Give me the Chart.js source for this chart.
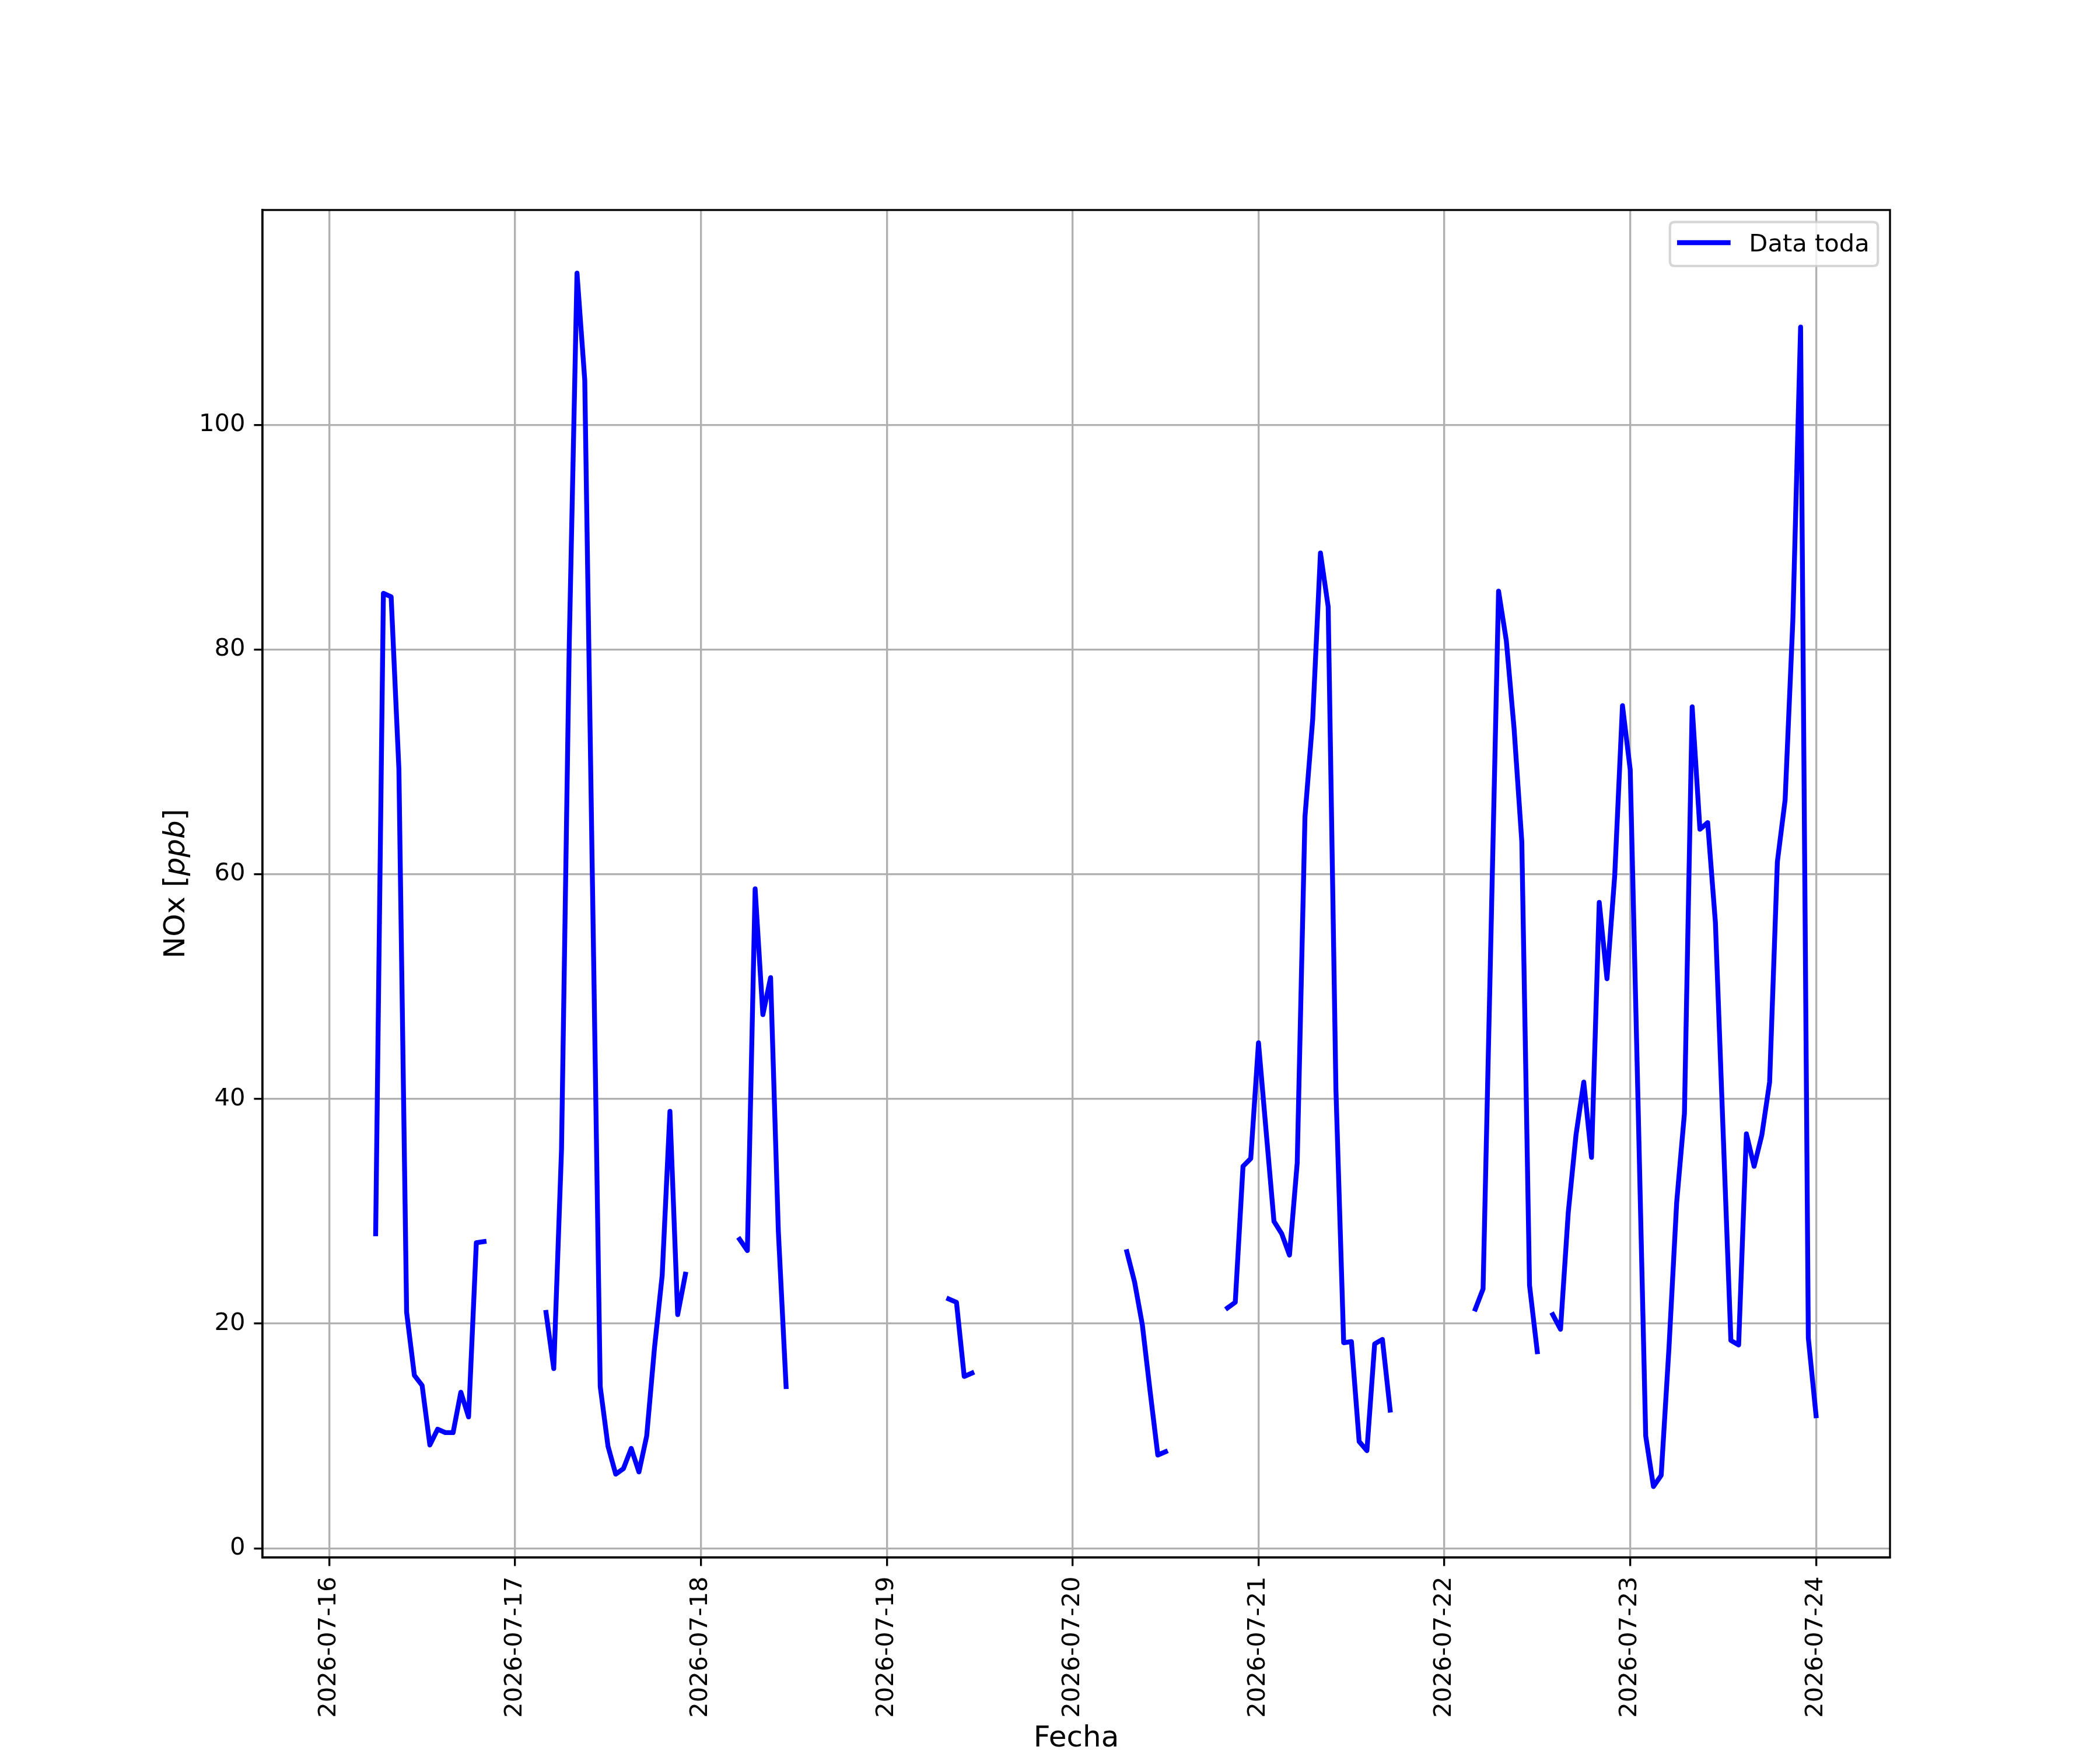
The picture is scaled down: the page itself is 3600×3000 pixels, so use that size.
<!DOCTYPE html>
<html>
<head>
<meta charset="utf-8">
<script src="https://cdn.jsdelivr.net/npm/chart.js@4.4.0/dist/chart.umd.min.js"></script>
<style>html,body{margin:0;padding:0;background:#fff}canvas{display:block}</style>
</head>
<body>
<canvas id="c" width="3600" height="3000" style="width:3600px;height:3000px"></canvas>
<script>
// ---- data (hourly values, null = no data) ----
const days = ['2026-07-16','2026-07-17','2026-07-18','2026-07-19','2026-07-20','2026-07-21','2026-07-22','2026-07-23','2026-07-24'];
const xTickLabels = ['2026-07-16','2026-07-17','2026-07-18','2026-07-19','2026-07-20','2026-07-21','2026-07-22','2026-07-23','2026-07-24'];
const yTicks = [0, 20, 40, 60, 80, 100];
const seriesLabel = 'Data toda';

const nox_0716 = [null,null,null,null,null,null,28.0,85.0,84.7,69.4,21.0,15.4,14.5,9.2,10.6,10.3,10.3,13.9,11.7,27.2,27.3,null,null,null];
const nox_0717 = [null,null,null,null,21.0,16.0,35.5,80.5,113.5,104.0,59.0,14.4,9.1,6.6,7.1,8.9,6.8,10.0,17.8,24.3,38.9,20.8,24.4,null];
const nox_0718 = [null,null,null,null,null,27.5,26.5,58.7,47.5,50.8,28.2,14.4,null,null,null,null,null,null,null,null,null,null,null,null];
const nox_0719 = [null,null,null,null,null,null,null,null,22.2,21.9,15.3,15.6,null,null,null,null,null,null,null,null,null,null,null,null];
const nox_0720 = [null,null,null,null,null,null,null,26.4,23.7,19.9,14.0,8.3,8.6,null,null,null,null,null,null,null,21.4,21.9,34.0,34.7];
const nox_0721 = [45.0,37.0,29.1,28.0,26.1,34.3,65.1,73.8,88.6,83.8,40.8,18.3,18.4,9.5,8.7,18.2,18.6,12.3,null,null,null,null,null,null];
const nox_0722 = [null,null,null,null,21.3,23.1,54.0,85.2,80.8,73.0,62.9,23.4,17.5,null,20.8,19.5,29.9,36.8,41.5,34.8,57.5,50.7,59.9,75.0];
const nox_0723 = [69.3,40.0,10.0,5.5,6.5,17.8,30.8,38.7,74.9,64.0,64.6,55.7,37.0,18.5,18.1,36.9,34.0,36.8,41.5,61.1,66.6,82.6,108.7,18.7];
const nox_0724 = [11.8];

const daySeries = [nox_0716,nox_0717,nox_0718,nox_0719,nox_0720,nox_0721,nox_0722,nox_0723,nox_0724];

// ---- build points ----
const HOUR = 3600000, DAY = 86400000;
const dayMs = d => Date.parse(d + 'T00:00:00Z');
const points = [];
days.forEach((d, i) => {
  const base = dayMs(d);
  daySeries[i].forEach((v, h) => points.push({x: base + h * HOUR, y: v}));
});

const FONT = 'DejaVu Sans';
const FS = 41.67;     // 10 pt @ 300 dpi
const FS_LABEL = 50;  // 12 pt @ 300 dpi
const LW_GRID = 3.33;

const framePlugin = {
  id: 'mplExtras',
  afterDraw(chart) {
    const {ctx, chartArea: a} = chart;
    ctx.save();
    // frame
    ctx.strokeStyle = '#000';
    ctx.lineWidth = LW_GRID;
    ctx.lineJoin = 'miter';
    ctx.strokeRect(a.left, a.top, a.right - a.left, a.bottom - a.top);

    // legend
    const lx = 2862.7, ly = 380.7, lw = 356.6, lh = 75.3, r = 8.3;
    ctx.beginPath();
    ctx.moveTo(lx + r, ly);
    ctx.lineTo(lx + lw - r, ly);
    ctx.quadraticCurveTo(lx + lw, ly, lx + lw, ly + r);
    ctx.lineTo(lx + lw, ly + lh - r);
    ctx.quadraticCurveTo(lx + lw, ly + lh, lx + lw - r, ly + lh);
    ctx.lineTo(lx + r, ly + lh);
    ctx.quadraticCurveTo(lx, ly + lh, lx, ly + lh - r);
    ctx.lineTo(lx, ly + r);
    ctx.quadraticCurveTo(lx, ly, lx + r, ly);
    ctx.closePath();
    ctx.fillStyle = 'rgba(255,255,255,0.8)';
    ctx.fill();
    ctx.strokeStyle = 'rgba(204,204,204,0.8)';
    ctx.lineWidth = 4.17;
    ctx.stroke();
    ctx.beginPath();
    ctx.strokeStyle = '#0000ff';
    ctx.lineWidth = 8.33;
    ctx.lineCap = 'butt';
    ctx.moveTo(2875, 416);
    ctx.lineTo(2966.7, 416);
    ctx.stroke();
    ctx.fillStyle = '#000';
    ctx.font = FS + 'px "' + FONT + '"';
    ctx.textAlign = 'left';
    ctx.textBaseline = 'alphabetic';
    ctx.fillText(seriesLabel, 2998.3, 430.7);

    // x axis title
    ctx.font = FS_LABEL + 'px "' + FONT + '"';
    ctx.textAlign = 'center';
    ctx.fillText('Fecha', (a.left + a.right) / 2, 2994);

    // y axis title: NOx [ppb] with italic ppb
    const parts = [['NOx [', ''], ['ppb', 'italic '], [']', '']];
    let total = 0;
    const widths = parts.map(([t, st]) => { ctx.font = st + FS_LABEL + 'px "' + FONT + '"'; const w = ctx.measureText(t).width; total += w; return w; });
    ctx.translate(316, (a.top + a.bottom) / 2);
    ctx.rotate(-Math.PI / 2);
    ctx.textAlign = 'left';
    let xx = -total / 2;
    parts.forEach(([t, st], i) => { ctx.font = st + FS_LABEL + 'px "' + FONT + '"'; ctx.fillText(t, xx, 0); xx += widths[i]; });
    ctx.restore();
  }
};

new Chart(document.getElementById('c'), {
  type: 'line',
  data: {
    datasets: [{
      label: seriesLabel,
      data: points,
      borderColor: '#0000ff',
      backgroundColor: '#0000ff',
      borderWidth: 8.33,
      pointRadius: 0,
      pointHoverRadius: 0,
      tension: 0,
      spanGaps: false,
      fill: false,
      borderCapStyle: 'square',
      borderJoinStyle: 'round'
    }]
  },
  options: {
    responsive: false,
    devicePixelRatio: 1,
    animation: false,
    events: [],
    layout: {padding: {left: 0, top: 360, right: 360, bottom: 0}},
    plugins: {legend: {display: false}, tooltip: {enabled: false}, title: {display: false}},
    scales: {
      x: {
        type: 'linear',
        position: 'bottom',
        min: dayMs(days[0]) - 0.3588 * DAY,
        max: dayMs(days[days.length - 1]) + 0.3977 * DAY,
        afterBuildTicks: s => { s.ticks = xTickLabels.map(d => ({value: dayMs(d)})); },
        afterFit: s => { s.height = 330; s.paddingLeft = 0; s.paddingRight = 0; },
        ticks: {
          autoSkip: false, minRotation: 90, maxRotation: 90, padding: 18, color: '#000',
          font: {family: FONT, size: FS},
          callback: (v, i) => xTickLabels[i]
        },
        grid: {color: '#b0b0b0', lineWidth: LW_GRID, drawTicks: true, tickLength: 14.6, tickColor: '#000', tickWidth: LW_GRID},
        border: {display: true, color: '#000', width: LW_GRID},
        title: {display: false}
      },
      y: {
        type: 'linear',
        position: 'left',
        min: -0.815,
        max: 119.12,
        afterBuildTicks: s => { s.ticks = yTicks.map(v => ({value: v})); },
        afterFit: s => { s.width = 450; },
        ticks: {
          padding: 15, color: '#000',
          font: {family: FONT, size: FS},
          callback: v => String(v)
        },
        grid: {color: '#b0b0b0', lineWidth: LW_GRID, drawTicks: true, tickLength: 14.6, tickColor: '#000', tickWidth: LW_GRID},
        border: {display: true, color: '#000', width: LW_GRID},
        title: {display: false}
      }
    }
  },
  plugins: [framePlugin]
});
</script>
</body>
</html>
